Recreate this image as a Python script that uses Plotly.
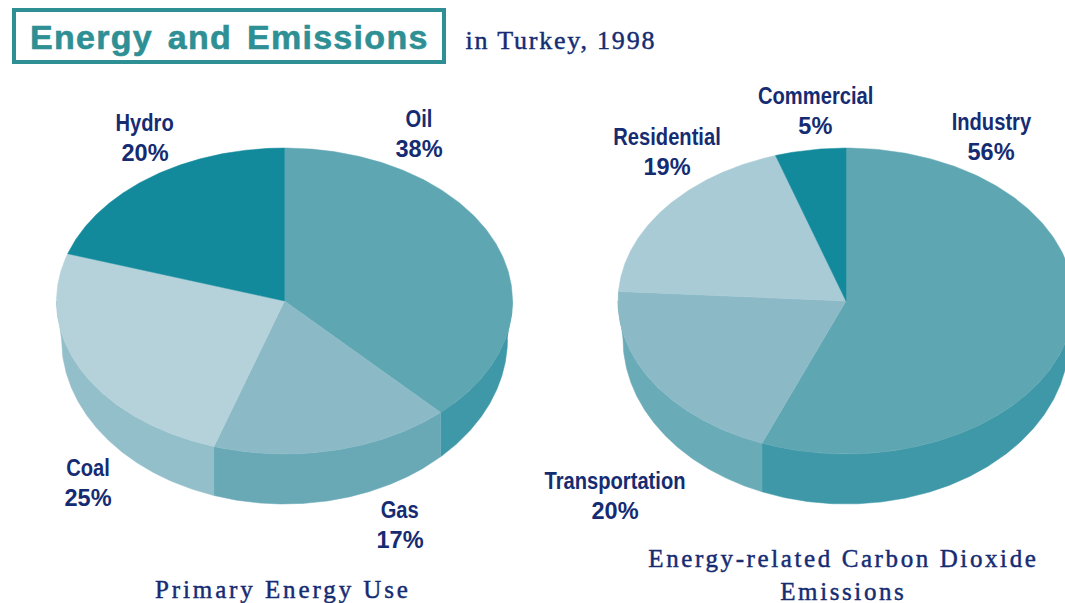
import json
import numpy as np
import plotly.graph_objects as go

# ---- data ----
energy_labels = ["Oil", "Gas", "Coal", "Hydro"]
energy_values = [38, 17, 25, 20]
co2_labels = ["Industry", "Transportation", "Residential", "Commercial"]
co2_values = [56, 20, 19, 5]

# ---- styles / layout ----
energy_top = ["#5FA6B3", "#8BBAC6", "#B5D2DA", "#138A9C"]
energy_side = ["#3F98A8", "#69A9B6", "#93BFCB", "#138A9C"]
co2_top = ["#5FA6B3", "#8BBAC6", "#A9CBD6", "#138A9C"]
co2_side = ["#3F98A8", "#6AABB8", "#A9CBD6", "#138A9C"]
energy_label_pos = [(418.5, 133), (399.5, 524.5), (88, 482), (144.5, 137)]
co2_label_pos = [(991, 136), (614.5, 495.5), (667, 151), (815, 110)]
NAVY = "#152C73"
TEAL = "#2E8F94"
RX, RY, CY = 228, 153, 301          # top face ellipse
BRX, BRY, BCY = 223, 165, 339       # bottom rim ellipse
W, H = 1065, 603
LABEL_FONT = "Liberation Sans, Arial, sans-serif"
SERIF = "Liberation Serif, DejaVu Serif, serif"


def ell(cx, deg):
    a = np.radians(deg)
    return cx + RX * np.sin(a), CY - RY * np.cos(a)


def rim(cx, deg):
    # point of the bottom rim vertically below the top-face point at this angle
    s = np.clip(RX * np.sin(np.radians(deg)) / BRX, -1, 1)
    p = np.pi - np.arcsin(s)
    return cx + BRX * np.sin(p), BCY - BRY * np.cos(p)


def add_pie(fig, cx, values, tops, sides):
    edges = np.cumsum([0] + list(values)) / sum(values) * 360
    for i, v in enumerate(values):
        lo, hi = max(edges[i], 90), min(edges[i + 1], 270)
        if lo >= hi:
            continue
        t = np.linspace(lo, hi, 200)
        x, y = ell(cx, t)
        bx, by = rim(cx, t)
        fig.add_trace(go.Scatter(
            x=np.r_[x, bx[::-1]], y=np.r_[y, by[::-1]],
            mode="lines", fill="toself", fillcolor=sides[i],
            line=dict(width=0.5, color=sides[i]), hoverinfo="skip"))
    for i, v in enumerate(values):
        t = np.linspace(edges[i], edges[i + 1], 200)
        x, y = ell(cx, t)
        fig.add_trace(go.Scatter(
            x=np.r_[cx, x, cx], y=np.r_[CY, y, CY],
            mode="lines", fill="toself", fillcolor=tops[i],
            line=dict(width=0.5, color=tops[i]), hoverinfo="skip"))


fig = go.Figure()
add_pie(fig, 284.5, energy_values, energy_top, energy_side)
add_pie(fig, 846, co2_values, co2_top, co2_side)

annotations = []
for names, vals, pos in [(energy_labels, energy_values, energy_label_pos),
                         (co2_labels, co2_values, co2_label_pos)]:
    for n, v, (x, y) in zip(names, vals, pos):
        for txt, yy in [(n, y - 15), (f"{v}%", y + 15)]:
            annotations.append(dict(x=x, y=yy, text=f"<b>{txt}</b>", showarrow=False,
                                    xanchor="center", yanchor="middle",
                                    font=dict(family=LABEL_FONT, size=24, color=NAVY)))
annotations += [
    dict(x=229.5, y=37, text="<b>Energy and Emissions</b>", showarrow=False, xanchor="center",
         yanchor="middle", font=dict(family="Liberation Sans, Arial, sans-serif", size=34, color=TEAL)),
    dict(x=561, y=40, text="in Turkey, 1998", showarrow=False, xanchor="center", yanchor="middle",
         font=dict(family=SERIF, size=26, color=NAVY)),
    dict(x=283, y=589, text="Primary Energy Use", showarrow=False, xanchor="center", yanchor="middle",
         font=dict(family=SERIF, size=25, color=NAVY)),
    dict(x=843, y=574.5, text="Energy-related Carbon Dioxide<br>Emissions", showarrow=False,
         xanchor="center", yanchor="middle", font=dict(family=SERIF, size=25, color=NAVY)),
]

fig.update_layout(
    width=W, height=H, margin=dict(l=0, r=0, t=0, b=0),
    paper_bgcolor="white", plot_bgcolor="white", showlegend=False,
    xaxis=dict(range=[0, W], visible=False, fixedrange=True),
    yaxis=dict(range=[H, 0], visible=False, fixedrange=True),
    annotations=annotations,
    shapes=[dict(type="rect", x0=14, y0=10, x1=444, y1=62,
                 line=dict(color=TEAL, width=4), fillcolor="rgba(0,0,0,0)")],
)

post = """
document.body.style.margin = '0';
var names = %s;
var sp = {'Energy and': ['1.3px', '0.6px', '4px'], 'in Turkey': ['1.8px', '0.45px', '0'],
          'Primary': ['2.9px', '0.45px', '0'], 'Energy-related': ['2.6px', '0.45px', '0']};
document.querySelectorAll('.annotation-text').forEach(function (el) {
  var t = el.textContent;
  Object.keys(sp).forEach(function (k) {
    if (t.indexOf(k) >= 0) {
      el.style.letterSpacing = sp[k][0];
      el.style.stroke = el.style.fill;
      el.style.strokeWidth = sp[k][1];
      el.style.wordSpacing = sp[k][2];
    }
  });
  var s = names.indexOf(t) >= 0 ? 0.84 : (t.slice(-1) === '%%' ? 0.98 : 1);
  if (s !== 1) {
    var b = el.getBBox(), c = b.x + b.width / 2;
    el.setAttribute('transform', 'translate(' + c + ',0) scale(' + s + ',1) translate(' + (-c) + ',0)');
  }
});
""" % json.dumps(energy_labels + co2_labels)
fig.write_html("out.html", config={"displayModeBar": False}, post_script=post)
